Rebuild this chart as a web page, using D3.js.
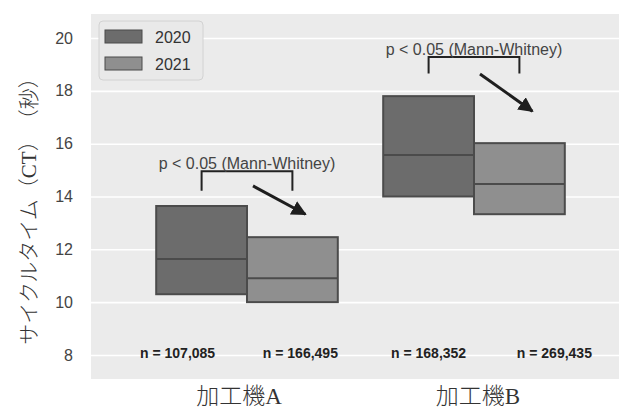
<!DOCTYPE html>
<html>
<head>
<meta charset="utf-8">
<script src="https://cdn.jsdelivr.net/npm/d3@7/dist/d3.min.js"></script>
<style>
  body { margin: 0; background: #fff; }
  svg { display: block; }
</style>
</head>
<body>
<svg id="chart" width="619" height="410"></svg>
<script>
// data
const machines = ['加工機A', '加工機B']
const years = ['2020', '2021']
// box stats per machine, per year: [q1, median, q3]
const q1 = [[10.30, 10.00], [14.00, 13.33]]
const medians = [[11.63, 10.90], [15.57, 14.47]]
const q3 = [[13.64, 12.46], [17.80, 16.02]]
const counts = [['n = 107,085', 'n = 166,495'], ['n = 168,352', 'n = 269,435']]
const yTicks = [8, 10, 12, 14, 16, 18, 20]
const pLabel = 'p < 0.05 (Mann-Whitney)'
const bracketTop = [14.96, 19.28]
const bracketBottom = [14.22, 18.66]
const arrowFrom = [14.40, 18.64]
const arrowTo = [13.33, 17.23]

const svg = d3.select('#chart')

const width = 619
const height = 410
const margin = {top: 14, right: 0, bottom: 31, left: 91}
const yearColors = {'2020': '#6c6c6c', '2021': '#8f8f8f'}
const edge = '#4b4b4b'
// the n labels are not centred on their boxes in the original
const countShift = [[-24, 8], [0, 35]]

const yScale = d3.scaleLinear()
  .domain([7.09, 20.91])
  .range([height - margin.bottom, margin.top])

const xScale = d3.scaleBand()
  .domain(machines)
  .range([133.5, 587.5])

const bw = xScale.bandwidth()
const xSub = d3.scaleBand()
  .domain(years)
  .range([0, bw * 0.8])

const boxX = (m, y) => xScale(machines[m]) + bw * 0.1 + xSub(years[y])
const boxMid = (m, y) => boxX(m, y) + xSub.bandwidth() / 2
const center = m => xScale(machines[m]) + bw / 2

// plot background
svg.append('rect')
  .attr('x', margin.left)
  .attr('y', margin.top)
  .attr('width', width - margin.left - margin.right)
  .attr('height', height - margin.top - margin.bottom)
  .attr('fill', '#ebebeb')

// y axis with white grid
const yAxis = d3.axisLeft(yScale)
  .tickValues(yTicks)
  .tickSize(-(width - margin.left - margin.right))
  .tickPadding(18)

const gy = svg.append('g')
  .attr('transform', `translate(${margin.left},0)`)
  .call(yAxis)
gy.select('.domain').remove()
gy.selectAll('.tick line').attr('stroke', '#fff').attr('stroke-width', 1.6)
gy.selectAll('.tick text')
  .attr('fill', '#444')
  .style('font-family', 'Liberation Sans, Arial, sans-serif')
  .style('font-size', '16px')

// x axis labels
const xAxis = d3.axisBottom(xScale).tickSize(0).tickPadding(9)
const gx = svg.append('g')
  .attr('transform', `translate(0,${height - margin.bottom})`)
  .call(xAxis)
gx.select('.domain').remove()
gx.selectAll('.tick text')
  .attr('dx', (d, i) => i === 0 ? -8 : 4)
  .attr('fill', '#333')
  .style('font-family', '"Liberation Serif", "Noto Sans CJK JP", serif')
  .style('font-weight', 300)
  .style('font-size', '23px')

// y title
svg.append('text')
  .attr('transform', 'translate(36,206) rotate(-90)')
  .attr('text-anchor', 'middle')
  .attr('fill', '#333')
  .style('font-family', '"Liberation Serif", "Noto Sans CJK JP", serif')
  .style('font-weight', 300)
  .style('font-size', '21px')
  .text('サイクルタイム（CT）　（秒）')

// boxes
machines.forEach((m, mi) => {
  years.forEach((yr, yi) => {
    svg.append('rect')
      .attr('x', boxX(mi, yi))
      .attr('y', yScale(q3[mi][yi]))
      .attr('width', xSub.bandwidth())
      .attr('height', yScale(q1[mi][yi]) - yScale(q3[mi][yi]))
      .attr('fill', yearColors[yr])
      .attr('stroke', edge)
      .attr('stroke-width', 2)

    svg.append('line')
      .attr('x1', boxX(mi, yi))
      .attr('x2', boxX(mi, yi) + xSub.bandwidth())
      .attr('y1', yScale(medians[mi][yi]))
      .attr('y2', yScale(medians[mi][yi]))
      .attr('stroke', edge)
      .attr('stroke-width', 2)

    svg.append('text')
      .attr('x', boxMid(mi, yi) + countShift[mi][yi])
      .attr('y', yScale(8) + 3)
      .attr('text-anchor', 'middle')
      .attr('fill', '#222')
      .style('font-family', 'Liberation Sans, Arial, sans-serif')
      .style('font-weight', 'bold')
      .style('font-size', '14px')
      .text(counts[mi][yi])
  })
})

// significance brackets, labels and arrows
svg.append('defs').append('marker')
  .attr('id', 'head')
  .attr('viewBox', '0 0 10 10')
  .attr('refX', 9)
  .attr('refY', 5)
  .attr('markerWidth', 5)
  .attr('markerHeight', 5)
  .attr('markerUnits', 'strokeWidth')
  .attr('orient', 'auto')
  .append('path')
  .attr('d', 'M0,0 L10,5 L0,10 Z')
  .attr('fill', '#1e1e1e')

machines.forEach((m, mi) => {
  const x1 = boxMid(mi, 0)
  const x2 = boxMid(mi, 1)
  svg.append('path')
    .attr('d', `M${x1},${yScale(bracketBottom[mi])}V${yScale(bracketTop[mi])}H${x2}V${yScale(bracketBottom[mi])}`)
    .attr('fill', 'none')
    .attr('stroke', '#222')
    .attr('stroke-width', 2)

  svg.append('text')
    .attr('x', center(mi))
    .attr('y', yScale(bracketTop[mi]) - 2)
    .attr('text-anchor', 'middle')
    .attr('fill', '#444')
    .style('font-family', 'Liberation Sans, Arial, sans-serif')
    .style('font-size', '16px')
    .text(pLabel)

  svg.append('line')
    .attr('x1', center(mi) + 6)
    .attr('y1', yScale(arrowFrom[mi]))
    .attr('x2', x2 + 13)
    .attr('y2', yScale(arrowTo[mi]))
    .attr('stroke', '#1e1e1e')
    .attr('stroke-width', 3)
    .attr('marker-end', 'url(#head)')
})

// legend
const legend = svg.append('g').attr('transform', 'translate(99,21)')
legend.append('rect')
  .attr('width', 104)
  .attr('height', 59)
  .attr('rx', 4)
  .attr('fill', '#e9e9e9')
  .attr('stroke', '#d2d2d2')

years.forEach((yr, i) => {
  legend.append('rect')
    .attr('x', 6)
    .attr('y', 9 + i * 27)
    .attr('width', 37)
    .attr('height', 13)
    .attr('fill', yearColors[yr])
    .attr('stroke', edge)
    .attr('stroke-width', 1)
  legend.append('text')
    .attr('x', 56)
    .attr('y', 22 + i * 27)
    .attr('fill', '#333')
    .style('font-family', 'Liberation Sans, Arial, sans-serif')
    .style('font-size', '16px')
    .text(yr)
})
</script>
</body>
</html>
